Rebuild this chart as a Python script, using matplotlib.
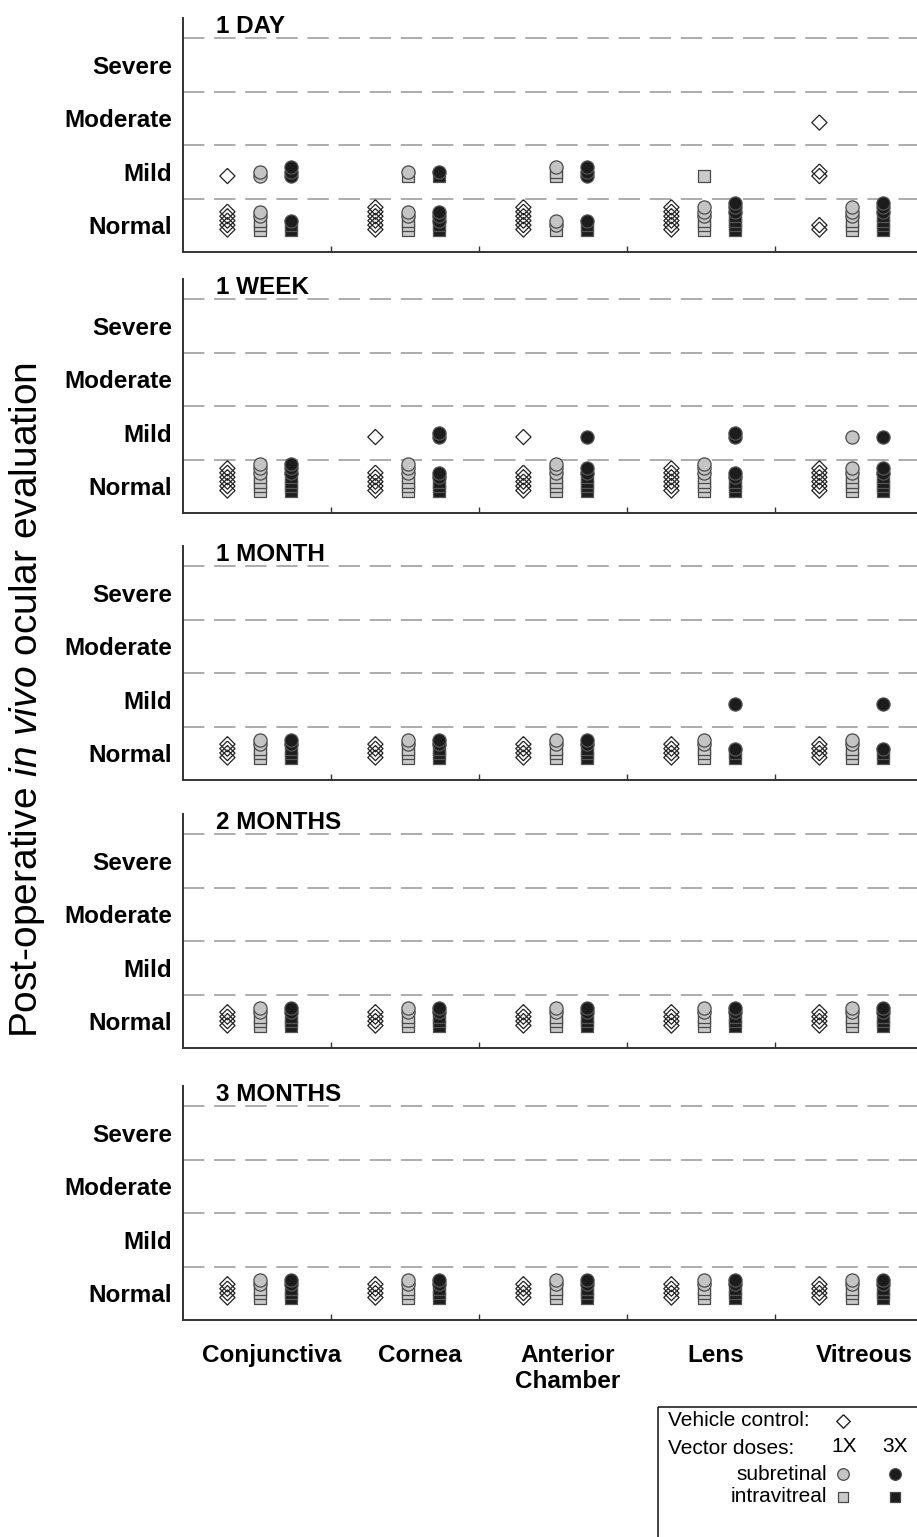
import numpy as np
import matplotlib
matplotlib.use('Agg')
import matplotlib.pyplot as plt
from matplotlib.patches import Rectangle

plt.rcParams['font.family'] = ['Liberation Sans', 'DejaVu Sans']
plt.rcParams['mathtext.fontset'] = 'custom'
plt.rcParams['mathtext.rm'] = 'Liberation Sans'
plt.rcParams['mathtext.it'] = 'Liberation Sans:italic'

timepoints = ['1 DAY', '1 WEEK', '1 MONTH', '2 MONTHS', '3 MONTHS']
tissues = ['Conjunctiva', 'Cornea', 'Anterior\nChamber', 'Lens', 'Vitreous']
grades = ['Normal', 'Mild', 'Moderate', 'Severe']

# eyes per grade [Normal, Mild, Moderate, Severe], one row per tissue, one block per time point
vehicle = [
    [[5, 1, 0, 0], [6, 0, 0, 0], [6, 0, 0, 0], [6, 0, 0, 0], [2, 2, 1, 0]],
    [[6, 0, 0, 0], [5, 1, 0, 0], [5, 1, 0, 0], [6, 0, 0, 0], [6, 0, 0, 0]],
    [[4, 0, 0, 0], [4, 0, 0, 0], [4, 0, 0, 0], [4, 0, 0, 0], [4, 0, 0, 0]],
    [[4, 0, 0, 0], [4, 0, 0, 0], [4, 0, 0, 0], [4, 0, 0, 0], [4, 0, 0, 0]],
    [[4, 0, 0, 0], [4, 0, 0, 0], [4, 0, 0, 0], [4, 0, 0, 0], [4, 0, 0, 0]],
]
# 1X dose, subretinal (circles) and intravitreal (squares)
sub_1x = [
    [[2, 2, 0, 0], [2, 1, 0, 0], [2, 1, 0, 0], [3, 0, 0, 0], [3, 0, 0, 0]],
    [[3, 0, 0, 0], [3, 0, 0, 0], [3, 0, 0, 0], [3, 0, 0, 0], [2, 1, 0, 0]],
    [[2, 0, 0, 0], [2, 0, 0, 0], [2, 0, 0, 0], [2, 0, 0, 0], [2, 0, 0, 0]],
    [[2, 0, 0, 0], [2, 0, 0, 0], [2, 0, 0, 0], [2, 0, 0, 0], [2, 0, 0, 0]],
    [[2, 0, 0, 0], [2, 0, 0, 0], [2, 0, 0, 0], [2, 0, 0, 0], [2, 0, 0, 0]],
]
ivt_1x = [
    [[3, 0, 0, 0], [3, 1, 0, 0], [1, 2, 0, 0], [3, 1, 0, 0], [3, 0, 0, 0]],
    [[4, 0, 0, 0], [4, 0, 0, 0], [4, 0, 0, 0], [4, 0, 0, 0], [4, 0, 0, 0]],
    [[3, 0, 0, 0], [3, 0, 0, 0], [3, 0, 0, 0], [3, 0, 0, 0], [3, 0, 0, 0]],
    [[3, 0, 0, 0], [3, 0, 0, 0], [3, 0, 0, 0], [3, 0, 0, 0], [3, 0, 0, 0]],
    [[3, 0, 0, 0], [3, 0, 0, 0], [3, 0, 0, 0], [3, 0, 0, 0], [3, 0, 0, 0]],
]
# 3X dose
sub_3x = [
    [[1, 3, 0, 0], [3, 1, 0, 0], [1, 3, 0, 0], [3, 0, 0, 0], [3, 0, 0, 0]],
    [[3, 0, 0, 0], [2, 2, 0, 0], [2, 1, 0, 0], [2, 2, 0, 0], [2, 1, 0, 0]],
    [[2, 0, 0, 0], [2, 0, 0, 0], [2, 0, 0, 0], [1, 1, 0, 0], [1, 1, 0, 0]],
    [[2, 0, 0, 0], [2, 0, 0, 0], [2, 0, 0, 0], [2, 0, 0, 0], [2, 0, 0, 0]],
    [[2, 0, 0, 0], [2, 0, 0, 0], [2, 0, 0, 0], [2, 0, 0, 0], [2, 0, 0, 0]],
]
ivt_3x = [
    [[2, 0, 0, 0], [2, 1, 0, 0], [2, 0, 0, 0], [4, 0, 0, 0], [4, 0, 0, 0]],
    [[4, 0, 0, 0], [3, 0, 0, 0], [4, 0, 0, 0], [3, 0, 0, 0], [4, 0, 0, 0]],
    [[3, 0, 0, 0], [3, 0, 0, 0], [3, 0, 0, 0], [2, 0, 0, 0], [2, 0, 0, 0]],
    [[3, 0, 0, 0], [3, 0, 0, 0], [3, 0, 0, 0], [3, 0, 0, 0], [3, 0, 0, 0]],
    [[3, 0, 0, 0], [3, 0, 0, 0], [3, 0, 0, 0], [3, 0, 0, 0], [3, 0, 0, 0]],
]

W, H = 917, 1537
fig = plt.figure(figsize=(W / 100, H / 100), dpi=100)

diamond = [(0, 1), (1, 0), (0, -1), (-1, 0), (0, 1)]
veh_style = dict(marker=diamond, s=120, facecolor='none', edgecolor='#222222', linewidths=0.9)
gray_c = dict(marker='o', s=90, facecolor='#c4c4c4', edgecolor='#4a4a4a', linewidths=0.9)
gray_s = dict(marker='s', s=72, facecolor='#cacaca', edgecolor='#4a4a4a', linewidths=0.9)
black_c = dict(marker='o', s=90, facecolor='#1c1c1c', edgecolor='#555555', linewidths=0.9)
black_s = dict(marker='s', s=72, facecolor='#1c1c1c', edgecolor='#555555', linewidths=0.9)

base, step = 0.42, 0.083
x_off = [0.30, 0.52, 0.73]


def stack(ax, x, level, n_sq, n_circ, sq_style, circ_style):
    ys = level + base + step * np.arange(n_sq + n_circ)
    if n_sq:
        ax.scatter([x] * n_sq, ys[:n_sq], clip_on=False, zorder=3, **sq_style)
    if n_circ:
        ax.scatter([x] * n_circ, ys[n_sq:], clip_on=False, zorder=3, **circ_style)


panel_bottoms = [252, 513, 780, 1048, 1320]
ax_h = 234
x0 = 183
for p, tp in enumerate(timepoints):
    ax = fig.add_axes([x0 / W, 1 - panel_bottoms[p] / H, (W - x0) / W, ax_h / H])
    ax.set_xlim(0, (W - x0) / 148)
    ax.set_ylim(0, ax_h / 53.5)
    for s in ['top', 'right']:
        ax.spines[s].set_visible(False)
    for s in ['left', 'bottom']:
        ax.spines[s].set_linewidth(1.4)
        ax.spines[s].set_color('#333333')

    ax.set_yticks(np.arange(len(grades)) + 0.5)
    ax.set_yticklabels(grades, fontsize=17.5, fontweight='bold')
    ax.set_yticks([1, 2, 3, 4], minor=True)
    ax.tick_params(axis='y', which='both', length=0, pad=8)
    ax.grid(which='minor', axis='y', color='#acacac', lw=1.4, linestyle=(0, (11, 5)))

    ax.set_xticks(np.arange(len(tissues)) + 0.6)
    ax.set_xticks([1, 2, 3, 4], minor=True)
    ax.tick_params(axis='x', which='major', length=0, pad=17)
    ax.tick_params(axis='x', which='minor', direction='in', length=4, width=1, color='#333333')
    if p == len(timepoints) - 1:
        ax.set_xticklabels(tissues, fontsize=17.5, fontweight='bold', va='top')
    else:
        ax.set_xticklabels([])

    ax.text(0.22, 4.22, tp, fontsize=17.5, fontweight='bold', va='center', ha='left')

    for i in range(len(tissues)):
        for lv in range(len(grades)):
            n = vehicle[p][i][lv]
            if n:
                ys = lv + base + step * np.arange(n)
                ax.scatter([i + x_off[0]] * n, ys, clip_on=False, zorder=3, **veh_style)
            stack(ax, i + x_off[1], lv, ivt_1x[p][i][lv], sub_1x[p][i][lv], gray_s, gray_c)
            stack(ax, i + x_off[2], lv, ivt_3x[p][i][lv], sub_3x[p][i][lv], black_s, black_c)

fig.text(27 / W, 1 - 700 / H, r'Post-operative $\mathit{in\ vivo}$ ocular evaluation',
         rotation=90, fontsize=28, ha='center', va='center')

# legend box
lg = fig.add_axes([0, 0, 1, 1])
lg.set_xlim(0, W)
lg.set_ylim(H, 0)
lg.axis('off')
lg.add_patch(Rectangle((658, 1407), 300, 160, fill=False, edgecolor='#222222', lw=1.2))
fs = 15
lg.text(668, 1421, 'Vehicle control:', fontsize=fs, va='center', ha='left')
lg.text(668, 1448, 'Vector doses:', fontsize=fs, va='center', ha='left')
lg.text(844, 1446, '1X', fontsize=fs, va='center', ha='center')
lg.text(895, 1446, '3X', fontsize=fs, va='center', ha='center')
lg.text(827, 1474, 'subretinal', fontsize=fs, va='center', ha='right')
lg.text(827, 1497, 'intravitreal', fontsize=fs, va='center', ha='right')
lg.scatter([843], [1421], marker=diamond, s=95, facecolor='white', edgecolor='#222222', linewidths=1)
lg.scatter([843], [1474], marker='o', s=70, facecolor='#c4c4c4', edgecolor='#4a4a4a', linewidths=0.9)
lg.scatter([895], [1474], marker='o', s=70, facecolor='#1c1c1c', edgecolor='#444444', linewidths=0.9)
lg.scatter([843], [1497], marker='s', s=50, facecolor='#cacaca', edgecolor='#4a4a4a', linewidths=0.9)
lg.scatter([895], [1497], marker='s', s=50, facecolor='#1c1c1c', edgecolor='#444444', linewidths=0.9)

fig.savefig('out.png', dpi=100)
